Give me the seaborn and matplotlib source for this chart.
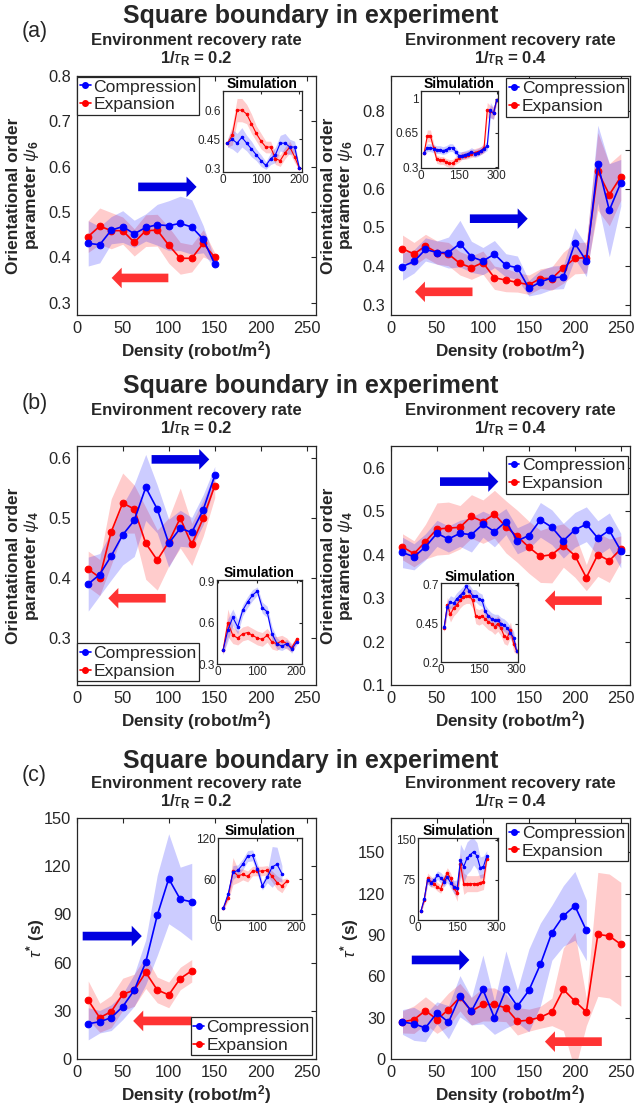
import numpy as np
import pandas as pd
import seaborn as sns
import matplotlib.pyplot as plt
from matplotlib.patches import FancyArrow
from matplotlib.lines import Line2D
from matplotlib.ticker import FuncFormatter

# --- Data ---
X10 = [12.5, 25, 37.5, 50, 62.5, 75, 87.5, 100, 112.5, 125]
X12 = [12.5, 25, 37.5, 50, 62.5, 75, 87.5, 100, 112.5, 125, 137.5, 150]
X13 = [12.5, 25, 37.5, 50, 62.5, 75, 87.5, 100, 112.5, 125, 137.5, 150, 162.5]
X14 = [12.5, 25, 37.5, 50, 62.5, 75, 87.5, 100, 112.5, 125, 137.5, 150, 162.5, 175]
X16 = [12.5, 25, 37.5, 50, 62.5, 75, 87.5, 100, 112.5, 125, 137.5, 150, 162.5, 175,
       187.5, 200]
X17 = [12.5, 25, 37.5, 50, 62.5, 75, 87.5, 100, 112.5, 125, 137.5, 150, 162.5, 175,
       187.5, 200, 212.5]
X20 = [12.5, 25, 37.5, 50, 62.5, 75, 87.5, 100, 112.5, 125, 137.5, 150, 162.5, 175,
       187.5, 200, 212.5, 225, 237.5, 250]
X21 = [12.5, 25, 37.5, 50, 62.5, 75, 87.5, 100, 112.5, 125, 137.5, 150, 162.5, 175,
       187.5, 200, 212.5, 225, 237.5, 250, 262.5]
X24 = [12.5, 25, 37.5, 50, 62.5, 75, 87.5, 100, 112.5, 125, 137.5, 150, 162.5, 175,
       187.5, 200, 212.5, 225, 237.5, 250, 262.5, 275, 287.5, 300]

# (a) psi6, 1/tau_R = 0.2
A1_COMP = [0.431, 0.428, 0.46, 0.468, 0.452, 0.466, 0.472, 0.470, 0.475, 0.467, 0.44, 0.385]
A1_COMP_ERR = [0.05, 0.04, 0.03, 0.035, 0.03, 0.03, 0.045, 0.055, 0.06, 0.06, 0.03, 0.01]
A1_EXP = [0.446, 0.469, 0.459, 0.459, 0.433, 0.459, 0.46, 0.427, 0.398, 0.398, 0.431, 0.40]
A1_EXP_ERR = [0.035, 0.04, 0.04, 0.03, 0.03, 0.035, 0.035, 0.04, 0.035, 0.03, 0.03, 0.01]
A1_SIM_COMP = [0.43, 0.45, 0.43, 0.46, 0.43, 0.40, 0.37, 0.34, 0.315, 0.35, 0.37, 0.43,
               0.43, 0.41, 0.41, 0.30]
A1_SIM_COMP_ERR = [0.02, 0.05, 0.05, 0.05, 0.04, 0.04, 0.03, 0.03, 0.02, 0.03, 0.04, 0.04,
                   0.05, 0.04, 0.03, 0.01]
A1_SIM_EXP = [0.43, 0.47, 0.60, 0.60, 0.58, 0.53, 0.48, 0.44, 0.41, 0.41, 0.35, 0.34,
              0.38, 0.41, 0.36, 0.30]
A1_SIM_EXP_ERR = [0.02, 0.05, 0.06, 0.06, 0.05, 0.05, 0.04, 0.04, 0.03, 0.03, 0.03, 0.03,
                  0.03, 0.03, 0.03, 0.01]

# (a) psi6, 1/tau_R = 0.4
A2_COMP = [0.399, 0.412, 0.443, 0.435, 0.435, 0.458, 0.424, 0.413, 0.431, 0.402, 0.396,
           0.343, 0.359, 0.37, 0.372, 0.459, 0.413, 0.663, 0.544, 0.615]
A2_COMP_ERR = [0.035, 0.03, 0.03, 0.03, 0.04, 0.06, 0.04, 0.035, 0.035, 0.03, 0.03, 0.02,
               0.03, 0.03, 0.03, 0.04, 0.04, 0.1, 0.12, 0.06]
A2_EXP = [0.445, 0.431, 0.452, 0.435, 0.431, 0.407, 0.396, 0.409, 0.37, 0.364, 0.358,
          0.352, 0.368, 0.368, 0.396, 0.42, 0.422, 0.644, 0.584, 0.63]
A2_EXP_ERR = [0.035, 0.03, 0.03, 0.03, 0.03, 0.03, 0.03, 0.03, 0.03, 0.03, 0.025, 0.025,
              0.025, 0.03, 0.04, 0.04, 0.04, 0.1, 0.08, 0.06]
A2_SIM_COMP = [0.45, 0.50, 0.50, 0.49, 0.48, 0.48, 0.47, 0.48, 0.50, 0.50, 0.46, 0.42,
               0.42, 0.43, 0.44, 0.46, 0.44, 0.45, 0.47, 0.49, 0.52, 0.88, 0.85, 0.99]
A2_SIM_COMP_ERR = [0.03, 0.04, 0.04, 0.04, 0.04, 0.04, 0.04, 0.04, 0.04, 0.04, 0.04, 0.04,
                   0.04, 0.04, 0.04, 0.04, 0.04, 0.04, 0.04, 0.04, 0.05, 0.08, 0.06, 0.03]
A2_SIM_EXP = [0.45, 0.62, 0.62, 0.50, 0.38, 0.37, 0.37, 0.35, 0.34, 0.34, 0.37, 0.39,
              0.42, 0.42, 0.43, 0.44, 0.45, 0.46, 0.47, 0.50, 0.88, 0.87, 0.85, 0.99]
A2_SIM_EXP_ERR = [0.03, 0.06, 0.06, 0.05, 0.04, 0.04, 0.04, 0.04, 0.04, 0.04, 0.04, 0.04,
                  0.04, 0.04, 0.04, 0.04, 0.04, 0.04, 0.04, 0.05, 0.08, 0.06, 0.06, 0.03]

# (b) psi4, 1/tau_R = 0.2
B1_COMP = [0.39, 0.406, 0.437, 0.472, 0.496, 0.551, 0.515, 0.458, 0.483, 0.476, 0.514, 0.571]
B1_COMP_ERR = [0.045, 0.035, 0.04, 0.05, 0.06, 0.055, 0.04, 0.04, 0.03, 0.025, 0.025, 0.015]
B1_EXP = [0.415, 0.401, 0.477, 0.525, 0.515, 0.458, 0.43, 0.46, 0.5, 0.456, 0.5, 0.554]
B1_EXP_ERR = [0.03, 0.03, 0.055, 0.05, 0.04, 0.06, 0.05, 0.04, 0.05, 0.035, 0.03, 0.02]
B1_SIM_COMP = [0.40, 0.55, 0.64, 0.57, 0.69, 0.75, 0.80, 0.83, 0.71, 0.68, 0.52, 0.45,
               0.43, 0.45, 0.41, 0.46]
B1_SIM_COMP_ERR = [0.03, 0.08, 0.06, 0.05, 0.04, 0.04, 0.04, 0.03, 0.04, 0.04, 0.05, 0.04,
                   0.03, 0.03, 0.03, 0.02]
B1_SIM_EXP = [0.40, 0.60, 0.51, 0.49, 0.52, 0.53, 0.51, 0.49, 0.48, 0.51, 0.46, 0.45,
              0.47, 0.45, 0.42, 0.48]
B1_SIM_EXP_ERR = [0.03, 0.1, 0.06, 0.05, 0.05, 0.05, 0.05, 0.05, 0.05, 0.05, 0.05, 0.05,
                  0.04, 0.04, 0.03, 0.02]

# (b) psi4, 1/tau_R = 0.4
B2_COMP = [0.405, 0.395, 0.418, 0.449, 0.436, 0.449, 0.446, 0.47, 0.453, 0.476, 0.432,
           0.444, 0.48, 0.463, 0.432, 0.457, 0.47, 0.438, 0.456, 0.409]
B2_COMP_ERR = [0.035, 0.03, 0.03, 0.03, 0.03, 0.03, 0.04, 0.03, 0.035, 0.03, 0.03, 0.03,
               0.04, 0.04, 0.04, 0.04, 0.04, 0.04, 0.04, 0.04]
B2_EXP = [0.418, 0.402, 0.43, 0.459, 0.461, 0.463, 0.488, 0.476, 0.493, 0.464, 0.442,
          0.417, 0.396, 0.4, 0.421, 0.398, 0.347, 0.4, 0.386, 0.413]
B2_EXP_ERR = [0.03, 0.03, 0.04, 0.06, 0.06, 0.05, 0.05, 0.05, 0.055, 0.06, 0.06, 0.06,
              0.06, 0.065, 0.05, 0.05, 0.03, 0.05, 0.05, 0.03]
B2_SIM_COMP = [0.43, 0.56, 0.59, 0.58, 0.61, 0.63, 0.65, 0.69, 0.66, 0.63, 0.63, 0.61,
               0.60, 0.53, 0.50, 0.48, 0.47, 0.47, 0.45, 0.44, 0.42, 0.39, 0.36, 0.27]
B2_SIM_COMP_ERR = [0.03, 0.04, 0.04, 0.04, 0.04, 0.04, 0.04, 0.03, 0.04, 0.04, 0.04, 0.04,
                   0.04, 0.04, 0.04, 0.04, 0.04, 0.04, 0.04, 0.04, 0.04, 0.04, 0.04, 0.02]
B2_SIM_EXP = [0.42, 0.57, 0.51, 0.55, 0.57, 0.60, 0.62, 0.63, 0.63, 0.60, 0.50, 0.49,
              0.50, 0.48, 0.46, 0.45, 0.43, 0.45, 0.42, 0.37, 0.36, 0.41, 0.32, 0.27]
B2_SIM_EXP_ERR = [0.03, 0.05, 0.05, 0.05, 0.05, 0.05, 0.05, 0.05, 0.05, 0.05, 0.05, 0.05,
                  0.05, 0.05, 0.05, 0.05, 0.05, 0.05, 0.05, 0.05, 0.05, 0.05, 0.05, 0.02]

# (c) tau*, 1/tau_R = 0.2
C1_COMP = [21.9, 23.2, 25.7, 32.6, 42.8, 60.2, 89.4, 112.2, 99.4, 97.8]
C1_COMP_ERR = [10, 7, 8, 8, 10, 14, 25, 28, 20, 24]
C1_EXP = [36.6, 25.7, 29.5, 40.3, 42.8, 53.9, 43.0, 39.9, 50.1, 54.9]
C1_EXP_ERR = [12, 9, 10, 10, 10, 10, 8, 8, 7, 7]
C1_SIM_COMP = [17, 38, 70, 73, 82, 94, 95, 75, 50, 63, 78, 82, 68]
C1_SIM_COMP_ERR = [3, 5, 10, 8, 8, 8, 8, 8, 6, 8, 30, 25, 12]
C1_SIM_EXP = [17, 33, 72, 65, 67, 64, 72, 72, 72, 73, 64, 55, 50, 57]
C1_SIM_EXP_ERR = [3, 5, 20, 10, 8, 8, 7, 7, 7, 7, 8, 10, 10, 5]

# (c) tau*, 1/tau_R = 0.4
C2_COMP = [26.9, 25.5, 22.6, 33.5, 26.7, 45.6, 34.7, 50.5, 29.9, 50.5, 38.3, 49.8, 68.7,
           91.7, 103.9, 111.2, 93.4]
C2_COMP_ERR = [9, 12, 10, 8, 12, 15, 10, 25, 12, 28, 12, 30, 30, 20, 22, 25, 22]
C2_EXP = [26.9, 28.6, 35.2, 28.6, 35.9, 44.9, 34.7, 39.6, 39.6, 37.1, 27.4, 28.2, 30.3,
          34.2, 50.5, 42.0, 34.2, 90.5, 89.3, 83.3]
C2_EXP_ERR = [8, 10, 10, 10, 12, 10, 10, 12, 12, 10, 10, 8, 8, 10, 30, 50, 10, 45, 45, 45]
C2_SIM_COMP = [17, 40, 75, 70, 74, 84, 79, 72, 80, 70, 62, 60, 112, 100, 116, 122, 128,
               120, 98, 100, 120]
C2_SIM_COMP_ERR = [4, 6, 8, 8, 8, 8, 10, 10, 10, 10, 12, 15, 30, 30, 30, 30, 25, 25, 20,
                   20, 10]
C2_SIM_EXP = [17, 38, 78, 72, 68, 62, 58, 75, 88, 78, 60, 50, 105, 68, 68, 68, 68, 68,
              70, 72, 115]
C2_SIM_EXP_ERR = [4, 6, 10, 10, 8, 8, 8, 10, 10, 10, 10, 15, 20, 20, 15, 15, 15, 15, 15,
                  15, 10]

BLUE = '#0000ff'
RED = '#ff0000'
ARROW_BLUE = '#0000e0'
ARROW_RED = '#ff3333'
DARK = '#262626'
W, H = 635, 1106


def px_axes(fig, x0, y0, x1, y1):
    return fig.add_axes([x0 / W, 1 - y1 / H, (x1 - x0) / W, (y1 - y0) / H])


def draw_series(ax, x, y, err, color, ms, lw):
    y = np.asarray(y, dtype=float)
    err = np.asarray(err, dtype=float)
    ax.fill_between(x, y - err, y + err, color=color, alpha=0.2, lw=0)
    df = pd.DataFrame({'x': x, 'y': y})
    sns.lineplot(data=df, x='x', y='y', ax=ax, color=color, marker='o', markersize=ms,
                 markeredgecolor=color, lw=lw, sort=False, estimator=None, legend=False)


def style_axes(ax, xlim, ylim, yticks, xticks, fs, tick_len=3.5, pad=3):
    ax.set_xlim(*xlim)
    ax.set_ylim(*ylim)
    ax.set_yticks(yticks)
    ax.set_xticks(xticks)
    fmt = FuncFormatter(lambda v, _: f'{v:g}')
    ax.xaxis.set_major_formatter(fmt)
    ax.yaxis.set_major_formatter(fmt)
    ax.tick_params(direction='in', length=tick_len, width=0.8, colors=DARK, labelsize=fs,
                   top=True, right=True, pad=pad)
    ax.set_xlabel('')
    ax.set_ylabel('')
    for s in ax.spines.values():
        s.set_color(DARK)
        s.set_linewidth(0.9)
        s.set_visible(True)
    ax.grid(False)


def add_arrow(ax, x0, x1, y, color):
    ax.add_patch(FancyArrow(x0, y, x1 - x0, 0, width=0.036, head_width=0.086,
                            head_length=0.042, length_includes_head=True,
                            color=color, lw=0, transform=ax.transAxes, zorder=5))


sns.set_theme(style="white")
plt.rcParams['font.family'] = ['Liberation Sans', 'DejaVu Sans']
plt.rcParams['mathtext.fontset'] = 'custom'
plt.rcParams['mathtext.rm'] = 'Liberation Sans'
plt.rcParams['mathtext.it'] = 'Liberation Sans:italic'
plt.rcParams['mathtext.bf'] = 'Liberation Sans:bold'

fig = plt.figure(figsize=(W / 100, H / 100), dpi=100)

PSI6 = 'Orientational order\nparameter $\\psi_{\\mathbf{6}}$'
PSI4 = 'Orientational order\nparameter $\\psi_{\\mathbf{4}}$'
TAU = '$\\tau^{\\mathbf{*}}$ (s)'

panels = [
    dict(row=0, col=0, comp=A1_COMP, comp_err=A1_COMP_ERR, exp=A1_EXP, exp_err=A1_EXP_ERR,
         cx=X12, ex=X12, ylim=(0.273, 0.8), yticks=[0.3, 0.4, 0.5, 0.6, 0.7, 0.8],
         sx=X16, scx=X16, scomp=A1_SIM_COMP, scomp_err=A1_SIM_COMP_ERR,
         sexp=A1_SIM_EXP, sexp_err=A1_SIM_EXP_ERR,
         inset=(222.7, 90.7, 301.7, 171.7), sxlim=(0, 206), sylim=(0.283, 0.70),
         sxticks=[0, 100, 200], syticks=[0.3, 0.45, 0.6],
         blue=(0.257, 0.501, 0.536), red=(0.383, 0.146, 0.155),
         leg=('upper left', (0.003, 0.997))),
    dict(row=0, col=1, comp=A2_COMP, comp_err=A2_COMP_ERR, exp=A2_EXP, exp_err=A2_EXP_ERR,
         cx=X20, ex=X20, ylim=(0.274, 0.89), yticks=[0.3, 0.4, 0.5, 0.6, 0.7, 0.8],
         scx=X24, sx=X24, scomp=A2_SIM_COMP, scomp_err=A2_SIM_COMP_ERR,
         sexp=A2_SIM_EXP, sexp_err=A2_SIM_EXP_ERR,
         inset=(421.0, 90.7, 497.7, 168.3), sxlim=(0, 304), sylim=(0.29, 1.08),
         sxticks=[0, 150, 300], syticks=[0.3, 0.65, 1.0],
         blue=(0.33, 0.572, 0.403), red=(0.341, 0.10, 0.097),
         leg=('upper right', (0.99, 0.99))),
    dict(row=1, col=0, comp=B1_COMP, comp_err=B1_COMP_ERR, exp=B1_EXP, exp_err=B1_EXP_ERR,
         cx=X12, ex=X12, ylim=(0.222, 0.62), yticks=[0.3, 0.4, 0.5, 0.6],
         scx=X16, sx=X16, scomp=B1_SIM_COMP, scomp_err=B1_SIM_COMP_ERR,
         sexp=B1_SIM_EXP, sexp_err=B1_SIM_EXP_ERR,
         inset=(217.3, 580.0, 301.7, 664.3), sxlim=(-2, 213), sylim=(0.3, 0.91),
         sxticks=[0, 100, 200], syticks=[0.3, 0.6, 0.9],
         blue=(0.313, 0.554, 0.944), red=(0.372, 0.132, 0.363),
         leg=('lower left', (0.003, 0.015))),
    dict(row=1, col=1, comp=B2_COMP, comp_err=B2_COMP_ERR, exp=B2_EXP, exp_err=B2_EXP_ERR,
         cx=X20, ex=X20, ylim=(0.1, 0.65), yticks=[0.1, 0.2, 0.3, 0.4, 0.5, 0.6],
         scx=X24, sx=X24, scomp=B2_SIM_COMP, scomp_err=B2_SIM_COMP_ERR,
         sexp=B2_SIM_EXP, sexp_err=B2_SIM_EXP_ERR,
         inset=(441.0, 583.3, 518.3, 662.3), sxlim=(0, 306), sylim=(0.2, 0.71),
         sxticks=[0, 150, 300], syticks=[0.2, 0.45, 0.7],
         blue=(0.205, 0.449, 0.851), red=(0.882, 0.644, 0.353),
         leg=('upper right', (0.99, 0.96))),
    dict(row=2, col=0, comp=C1_COMP, comp_err=C1_COMP_ERR, exp=C1_EXP, exp_err=C1_EXP_ERR,
         cx=X10, ex=X10, ylim=(0, 150), yticks=[0, 30, 60, 90, 120, 150],
         scx=X13, sx=X14, scomp=C1_SIM_COMP, scomp_err=C1_SIM_COMP_ERR,
         sexp=C1_SIM_EXP, sexp_err=C1_SIM_EXP_ERR,
         inset=(218.3, 837.7, 301.7, 920.0), sxlim=(0, 213), sylim=(0, 121),
         sxticks=[0, 100, 200], syticks=[0, 60, 120],
         blue=(0.025, 0.272, 0.51), red=(0.48, 0.236, 0.158),
         leg=('lower right', (0.985, 0.015))),
    dict(row=2, col=1, comp=C2_COMP, comp_err=C2_COMP_ERR, exp=C2_EXP, exp_err=C2_EXP_ERR,
         cx=X17, ex=X20, ylim=(0, 175), yticks=[0, 30, 60, 90, 120, 150],
         scx=X21, sx=X21, scomp=C2_SIM_COMP, scomp_err=C2_SIM_COMP_ERR,
         sexp=C2_SIM_EXP, sexp_err=C2_SIM_EXP_ERR,
         inset=(417.7, 837.7, 497.7, 920.0), sxlim=(0, 304), sylim=(0, 154),
         sxticks=[0, 150, 300], syticks=[0, 75, 150],
         blue=(0.087, 0.328, 0.411), red=(0.882, 0.644, 0.072),
         leg=('upper right', (0.99, 0.98))),
]

COL_X = [(76.7, 316.0), (391.0, 630.0)]
ROW_Y = [(76.0, 315.0), (446.0, 685.0), (818.0, 1059.0)]
TITLE_BASE = [22.7, 393.3, 768.3]
LETTER_BASE = [37.0, 409.0, 781.0]
LETTERS = ['(a)', '(b)', '(c)']
SUB1_BASE = [45.0, 415.0, 788.3]
SUB2_BASE = [63.3, 433.3, 806.7]
RATES = ['0.2', '0.4']
YLABELS = [PSI6, PSI4, TAU]

for p in panels:
    r, c = p['row'], p['col']
    x0, x1 = COL_X[c]
    y0, y1 = ROW_Y[r]
    ax = px_axes(fig, x0, y0, x1, y1)
    draw_series(ax, p['ex'], p['exp'], p['exp_err'], RED, 4.8, 1.2)
    draw_series(ax, p['cx'], p['comp'], p['comp_err'], BLUE, 4.8, 1.2)
    style_axes(ax, (0, 260), p['ylim'], p['yticks'], [0, 50, 100, 150, 200, 250], 11.8,
               tick_len=3.5, pad=4)
    add_arrow(ax, p['blue'][0], p['blue'][1], p['blue'][2], ARROW_BLUE)
    add_arrow(ax, p['red'][0], p['red'][1], p['red'][2], ARROW_RED)

    handles = [Line2D([], [], color=BLUE, marker='o', ms=4, lw=1.2),
               Line2D([], [], color=RED, marker='o', ms=4, lw=1.2)]
    leg = ax.legend(handles, ['Compression', 'Expansion'], loc=p['leg'][0],
                    bbox_to_anchor=p['leg'][1], fontsize=12.6, frameon=True,
                    fancybox=False, edgecolor=DARK, framealpha=1, handlelength=0.6,
                    handletextpad=0.15, borderpad=0.15, labelspacing=0.15,
                    borderaxespad=0)
    leg.get_frame().set_linewidth(0.9)
    leg.set_zorder(10)

    # inset with simulation results
    ix0, iy0, ix1, iy1 = p['inset']
    ins = px_axes(fig, ix0, iy0, ix1, iy1)
    draw_series(ins, p['sx'], p['sexp'], p['sexp_err'], RED, 1.8, 0.8)
    draw_series(ins, p['scx'], p['scomp'], p['scomp_err'], BLUE, 1.8, 0.8)
    style_axes(ins, p['sxlim'], p['sylim'], p['syticks'], p['sxticks'], 8.5,
               tick_len=2.5, pad=1.5)
    ins.set_title('Simulation', fontsize=10, fontweight='bold', pad=2, color='black')
    ins.set_facecolor('white')

    # labels
    cx = (x0 + x1) / 2
    cy = (y0 + y1) / 2
    fig.text(cx / W, 1 - SUB1_BASE[r] / H, 'Environment recovery rate', fontsize=12,
             fontweight='bold', ha='center', va='baseline')
    fig.text(cx / W, 1 - SUB2_BASE[r] / H,
             '1/$\\tau_{\\mathbf{R}}$ = ' + RATES[c], fontsize=12,
             fontweight='bold', ha='center', va='baseline')
    fig.text(cx / W, 1 - (y1 + 41) / H, 'Density (robot/m$^{\\mathbf{2}}$)', fontsize=12.3,
             fontweight='bold', ha='center', va='baseline', color=DARK)
    lab_x = x0 - 53 if r < 2 else x0 - 41
    fig.text(lab_x / W, 1 - cy / H, YLABELS[r], fontsize=12.5, fontweight='bold',
             rotation=90, ha='center', va='center', color=DARK, linespacing=1.05)

for r in range(3):
    fig.text(311 / W, 1 - TITLE_BASE[r] / H, 'Square boundary in experiment',
             fontsize=18, fontweight='bold', ha='center', va='baseline')
    fig.text(21.7 / W, 1 - LETTER_BASE[r] / H, LETTERS[r], fontsize=15.5,
             ha='left', va='baseline')

fig.savefig('out.png', dpi=100)
